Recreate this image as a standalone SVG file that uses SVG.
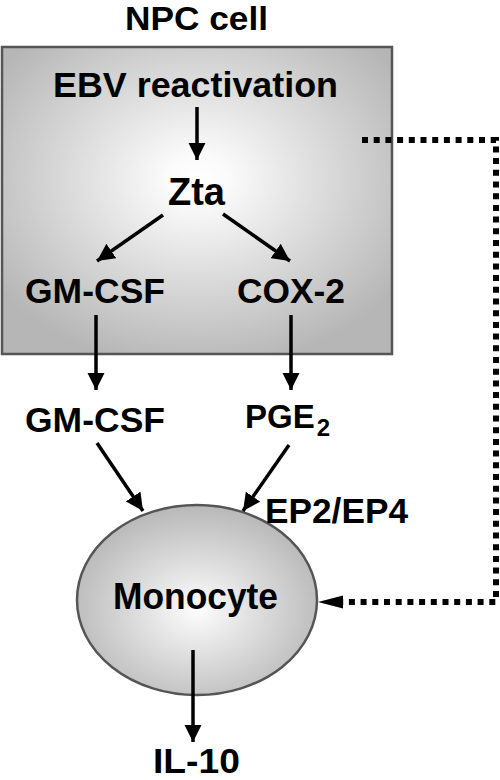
<svg xmlns="http://www.w3.org/2000/svg" width="500" height="780" viewBox="0 0 500 780">
<defs>
<radialGradient id="gBox" cx="0.5" cy="0.43" r="0.62">
<stop offset="0" stop-color="#ffffff"/>
<stop offset="0.12" stop-color="#fbfbfb"/>
<stop offset="1" stop-color="#b6b6b6"/>
</radialGradient>
<radialGradient id="gEll" cx="0.5" cy="0.55" r="0.55">
<stop offset="0" stop-color="#ffffff"/>
<stop offset="0.1" stop-color="#f6f6f6"/>
<stop offset="1" stop-color="#b8b8b8"/>
</radialGradient>
<marker id="ah" markerWidth="5" markerHeight="5" refX="5" refY="2.5" orient="auto" markerUnits="strokeWidth">
<path d="M0,0 L5,2.5 L0,5 Z" fill="#000"/>
</marker>
</defs>
<style>
text{font-family:"Liberation Sans",Arial,sans-serif;font-weight:bold;fill:#000;}
.t{font-size:35px;text-anchor:middle;}
.c{stroke:#000;stroke-width:3.5;fill:none;marker-end:url(#ah);}
.d{stroke:#000;stroke-width:6;fill:none;stroke-dasharray:6 5.7;}
</style>
<g id="npc-cell">
<rect x="2" y="47" width="390" height="307" fill="url(#gBox)" stroke="#555" stroke-width="2.5"/>
<text class="t" x="196.5" y="30" style="font-size:33px" textLength="143" lengthAdjust="spacingAndGlyphs">NPC cell</text>
</g>
<g id="ebv">
<text class="t" x="195.5" y="97" textLength="285" lengthAdjust="spacingAndGlyphs">EBV reactivation</text>
</g>
<g id="zta">
<text class="t" x="196.5" y="205" style="font-size:38px" textLength="57" lengthAdjust="spacingAndGlyphs">Zta</text>
</g>
<g id="gmcsf-in">
<text class="t" x="95" y="303" textLength="140" lengthAdjust="spacingAndGlyphs">GM-CSF</text>
</g>
<g id="cox2">
<text class="t" x="291" y="303" textLength="108" lengthAdjust="spacingAndGlyphs">COX-2</text>
</g>
<g id="gmcsf-out">
<text class="t" x="95" y="432" textLength="140" lengthAdjust="spacingAndGlyphs">GM-CSF</text>
</g>
<g id="pge2">
<text x="245" y="428" style="font-size:33px">PGE<tspan dx="2" dy="8" style="font-size:24px">2</tspan></text>
</g>
<g id="monocyte">
<ellipse cx="197" cy="600" rx="120" ry="95" fill="url(#gEll)" stroke="#555" stroke-width="2.5"/>
<text class="t" x="195.5" y="609" style="font-size:37px" textLength="165" lengthAdjust="spacingAndGlyphs">Monocyte</text>
</g>
<g id="ep2ep4">
<text class="t" x="336.5" y="523" textLength="143" lengthAdjust="spacingAndGlyphs">EP2/EP4</text>
</g>
<g id="il10">
<text class="t" x="196.5" y="773" textLength="87" lengthAdjust="spacingAndGlyphs">IL-10</text>
</g>
<g id="connectors">
<line class="c" x1="197" y1="107" x2="197" y2="160"/>
<line class="c" x1="163" y1="215" x2="97" y2="261"/>
<line class="c" x1="223" y1="214" x2="290" y2="261"/>
<line class="c" x1="96" y1="315" x2="96" y2="390"/>
<line class="c" x1="291" y1="315" x2="291" y2="390"/>
<line class="c" x1="97" y1="443" x2="143" y2="511"/>
<line class="c" x1="289" y1="445" x2="243" y2="511"/>
<line class="c" x1="193" y1="650" x2="193" y2="742"/>
<path class="d" d="M362,140 H496 V602 H343"/>
<polygon points="318,602 343,595.5 343,608.5" fill="#000"/>
</g>
</svg>
